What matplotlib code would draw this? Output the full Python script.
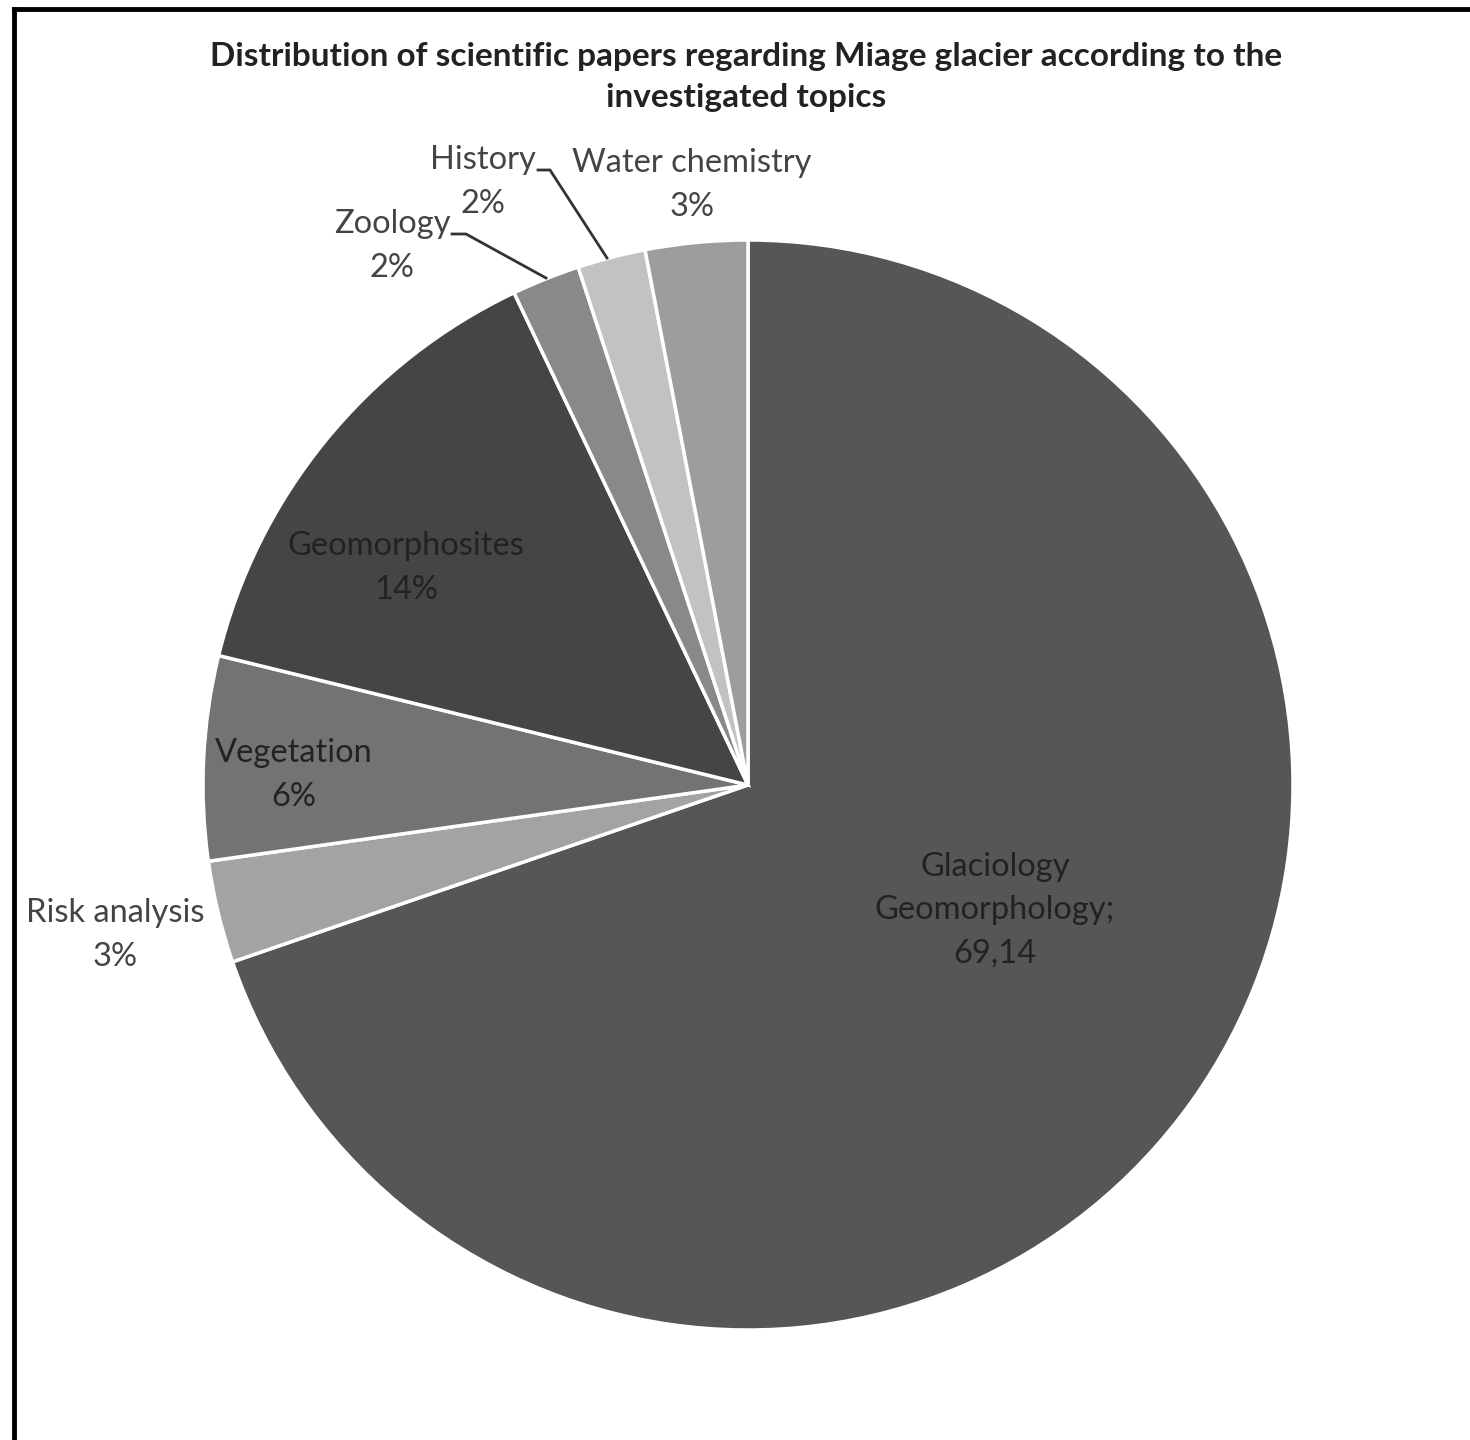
import matplotlib.pyplot as plt
from matplotlib.lines import Line2D

topics = ["Glaciology\nGeomorphology", "Risk analysis", "Vegetation", "Geomorphosites",
          "Zoology", "History", "Water chemistry"]
shares = [69.14, 3, 6, 14, 2, 2, 3]
grays = ["#565656", "#a3a3a3", "#737373", "#454545", "#898989", "#c2c2c2", "#9d9d9d"]

title = "Distribution of scientific papers regarding Miage glacier according to the\ninvestigated topics"

# label text for each slice
labels = []
for name, v in zip(topics, shares):
    if v != int(v):
        labels.append(name + ";\n" + ("%.2f" % v).replace(".", ","))
    else:
        labels.append(name + "\n" + "%d%%" % v)

# label anchor points (pixel coords, y up) and text colour
label_pos = [(995, 1440 - 910), (115, 1440 - 935), (294, 1440 - 775), (406, 1440 - 568),
             (392, 1440 - 246), (483, 1440 - 182), (692, 1440 - 185)]
label_col = ["#222222", "#444444", "#222222", "#222222", "#444444", "#444444", "#444444"]

plt.rcParams["font.family"] = ["Lato", "DejaVu Sans"]

fig = plt.figure(figsize=(14.7, 14.4), dpi=100)
ax = fig.add_axes([0, 0, 1, 1])

ax.pie(shares, colors=grays, startangle=90, counterclock=False,
       center=(748, 1440 - 785), radius=545, frame=True,
       wedgeprops=dict(edgecolor="white", linewidth=2.5))
ax.set_xlim(0, 1470)
ax.set_ylim(0, 1440)
ax.set_aspect("equal")
ax.axis("off")

for lab, (x, y), c in zip(labels, label_pos, label_col):
    ax.text(x, y, lab, ha="center", va="center", fontsize=23.5, color=c,
            linespacing=1.55)

# leader lines for the two thin slices
ax.add_line(Line2D([452, 466, 546], [1440 - 234, 1440 - 234, 1440 - 278],
                   color="#333333", lw=2))
ax.add_line(Line2D([538, 550, 607], [1440 - 170, 1440 - 170, 1440 - 258],
                   color="#333333", lw=2))

ax.text(746, 1440 - 77, title, ha="center", va="center", fontsize=24,
        fontweight="bold", color="#222222", linespacing=1.5)

# frame lines on top and left
fig.add_artist(Line2D([14 / 1470, 1], [1 - 9 / 1440, 1 - 9 / 1440], color="black", lw=3.5))
fig.add_artist(Line2D([14 / 1470, 14 / 1470], [0, 1 - 9 / 1440], color="black", lw=3.5))

fig.savefig("out.png", dpi=100, facecolor="white")
